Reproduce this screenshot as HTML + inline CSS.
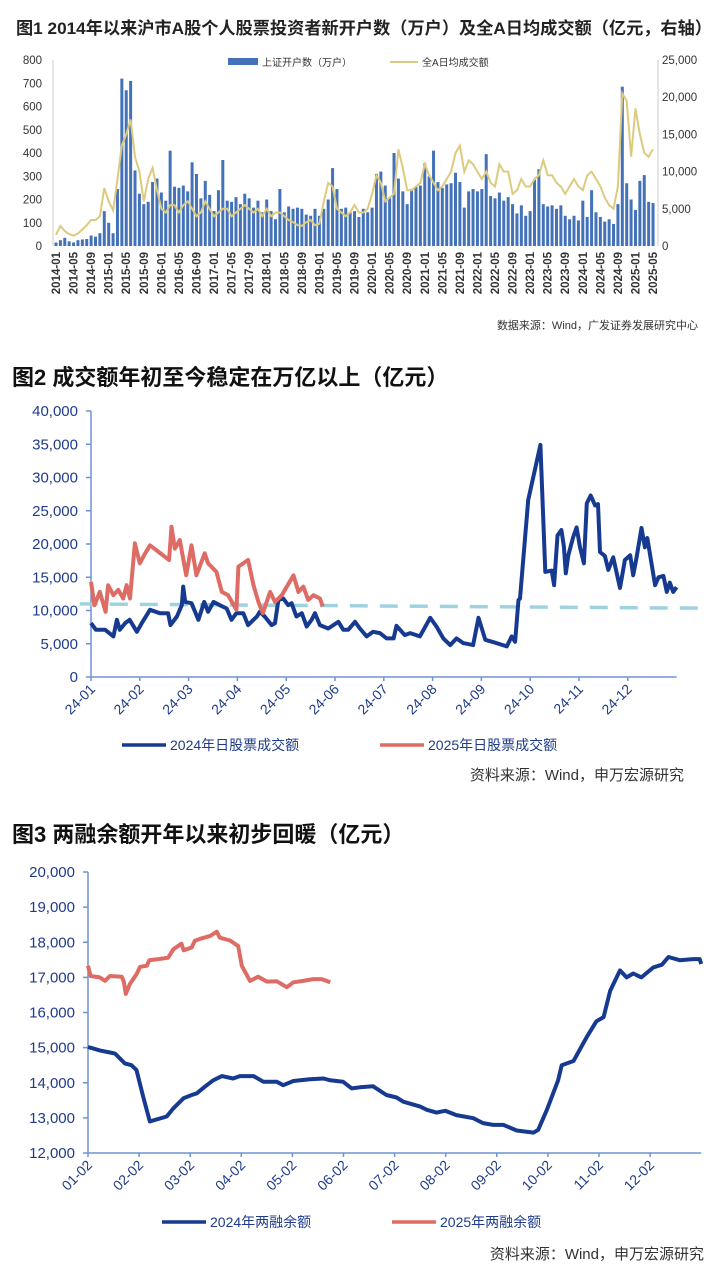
<!DOCTYPE html>
<html><head><meta charset="utf-8"><style>
body{margin:0;background:#fff;}
svg{display:block;font-family:"Liberation Sans","Noto Sans CJK SC",sans-serif;}
</style></head><body>
<svg id="s" width="720" height="1282" viewBox="0 0 720 1282">
<text x="16" y="34" font-size="17" font-weight="bold" fill="#222" textLength="696" lengthAdjust="spacingAndGlyphs">图1  2014年以来沪市A股个人股票投资者新开户数（万户）及全A日均成交额（亿元，右轴）</text>
<g id="c1"></g>
<text x="698" y="329" font-size="11" fill="#333" text-anchor="end">数据来源：Wind，广发证券发展研究中心</text>
<text x="12" y="385" font-size="22" font-weight="bold" fill="#111">图2  成交额年初至今稳定在万亿以上（亿元）</text>
<g id="c2"></g>
<text x="12" y="842" font-size="22" font-weight="bold" fill="#111">图3  两融余额开年以来初步回暖（亿元）</text>
<g id="c3"></g>
</svg>
<script>
// ---------- Figure 1 data ----------
const accounts = [15,25,35,20,15,25,28,30,45,40,55,150,
100,55,245,720,670,710,325,225,180,190,275,290,
230,195,410,255,250,260,235,360,310,205,280,220,
150,240,370,195,190,210,180,225,205,165,195,145,
200,150,115,245,145,170,160,165,160,135,130,160,
130,160,200,335,245,160,165,145,150,125,160,145,
165,310,320,260,210,400,290,235,180,245,255,260,
355,300,410,275,250,265,270,315,275,165,235,245,
235,245,395,215,205,230,195,210,180,140,175,130,
150,285,330,180,170,175,160,175,130,115,130,110,
195,125,240,145,125,105,115,95,180,685,270,200,
155,280,305,190,185];
const turnover = [1500,2700,2000,1600,1400,1700,2200,2800,3500,3500,4000,7800,
6000,4800,9000,13500,15000,17000,12000,10000,6000,9000,10500,7500,
5000,4500,5500,5500,4500,5500,6000,5000,4000,4500,6000,5000,
4000,4500,5000,5000,4000,4500,5000,5500,5000,4500,5000,4000,
5000,4000,4500,4500,4000,3500,3200,2800,2700,3200,3500,2800,
3000,6000,8500,8000,5000,4500,4000,4500,5500,4500,4500,5000,
7000,9500,8500,6000,6500,7000,13000,10500,7500,7500,8000,8500,
11000,9500,8500,7500,8000,9000,10000,12500,13500,10000,11500,11000,
10000,9000,10000,8500,8000,11000,10000,10000,7000,7500,9000,8000,
8000,9000,9500,11500,9500,9500,8500,8000,7000,8000,9000,8000,
7500,9500,10000,9000,8000,6500,5500,5000,8000,20500,19500,12000,
18500,15000,12500,12000,13000];
const leftTicks1 = [0,100,200,300,400,500,600,700,800];
const rightTicks1 = [0,5000,10000,15000,20000,25000];

// ---------- Figure 2 data ----------
const m2024 = [0,.1,.29,.46,.53,.59,.7,.79,.94,1.04,1.21,1.41,1.58,1.63,1.76,1.86,1.89,1.93,2.06,2.2,2.32,2.4,2.51,2.64,2.78,2.88,2.98,3.12,3.22,3.4,3.46,3.56,3.7,3.77,3.84,3.94,4.04,4.11,4.21,4.32,4.42,4.52,4.59,4.69,4.86,5.07,5.17,5.27,5.41,5.51,5.65,5.78,5.92,6.06,6.2,6.26,6.43,6.54,6.74,6.95,7.08,7.22,7.36,7.49,7.63,7.83,7.94,8.08,8.31,8.52,8.62,8.69,8.76,8.79,8.96,9.21,9.31,9.44,9.49,9.56,9.64,9.69,9.73,9.78,9.88,9.95,10.02,10.1,10.16,10.24,10.33,10.39,10.43,10.53,10.6,10.7,10.84,10.94,11.05,11.11,11.18,11.28,11.35,11.4,11.56,11.63,11.73,11.8,11.86,11.93,12];
const v2024 = [8100,7100,7100,6100,8600,7100,8100,8600,6800,8100,10100,9600,9600,7800,9100,10800,13600,11300,11100,8600,11300,9800,11300,10800,10300,8600,9600,9600,7800,9100,9800,9100,7800,8100,11600,11800,10800,11100,9100,9600,7600,8600,9600,7800,7300,8300,7100,7100,8300,7300,6100,6800,6600,5800,5800,7700,6300,6600,6100,8900,7600,5800,4800,5800,5100,4800,8900,5600,5100,4600,6100,5300,11600,11800,26600,34900,15800,16000,13800,21300,22100,19600,15600,18300,21000,22500,19500,17100,26100,27300,25800,26000,18800,18200,16100,18000,13400,17600,18300,15300,18000,22400,19500,20900,13800,15000,15200,12800,14200,12800,13500];
const m2025 = [0,.07,.18,.3,.35,.46,.56,.66,.73,.8,.9,1.0,1.11,1.21,1.6,1.65,1.72,1.82,1.95,2.06,2.16,2.33,2.4,2.57,2.68,2.81,2.98,3.02,3.22,3.33,3.43,3.52,3.67,3.77,3.91,4.15,4.25,4.35,4.45,4.56,4.69,4.75];
const v2025 = [14300,10800,12800,9800,13800,12300,13100,11800,13800,11800,20100,17100,18600,19800,17600,22600,19300,20600,15300,19800,15300,18600,17100,15800,12800,12300,10100,16600,17600,13800,11300,9600,12800,11300,12300,15300,12800,13600,11600,12300,11800,10600];
const trendM = [-0.23,12.5];
const trendV = [11000,10350];
const yTicks2 = [0,5000,10000,15000,20000,25000,30000,35000,40000];
const xLabels2 = ['24-01','24-02','24-03','24-04','24-05','24-06','24-07','24-08','24-09','24-10','24-11','24-12'];

// ---------- Figure 3 data ----------
const mm2024 = [0,.04,.23,.43,.53,.72,.85,.95,1.08,1.21,1.54,1.67,1.87,2.03,2.13,2.29,2.45,2.62,2.84,2.97,3.24,3.43,3.69,3.82,4.02,4.34,4.61,4.74,4.99,5.16,5.32,5.58,5.84,6.04,6.17,6.5,6.63,6.82,6.99,7.21,7.54,7.73,7.93,8.13,8.39,8.72,8.81,8.98,9.2,9.27,9.5,9.76,9.95,10.09,10.22,10.41,10.54,10.67,10.83,11.06,11.23,11.36,11.58,11.84,11.97,12];
const mv2024 = [15020,15000,14920,14860,14830,14550,14500,14360,13600,12900,13040,13270,13560,13650,13700,13890,14070,14190,14120,14190,14190,14030,14030,13930,14050,14100,14120,14070,14030,13840,13870,13900,13650,13580,13460,13320,13230,13150,13200,13080,12990,12850,12800,12800,12640,12580,12660,13230,14070,14500,14620,15300,15750,15870,16620,17200,17000,17110,17000,17280,17360,17580,17490,17520,17520,17380];
const mm2025 = [0,.05,.23,.33,.43,.66,.7,.74,.82,.95,1.02,1.15,1.2,1.38,1.57,1.67,1.83,1.87,2.03,2.09,2.22,2.39,2.52,2.58,2.78,2.94,3.01,3.17,3.33,3.5,3.69,3.89,4.02,4.21,4.41,4.57,4.67,4.74];
const mv2025 = [17330,17040,17000,16900,17040,17020,16880,16530,16810,17090,17300,17330,17490,17520,17560,17800,17960,17770,17850,18040,18110,18180,18300,18130,18050,17890,17330,16900,17020,16880,16890,16720,16860,16900,16950,16950,16900,16860];
const yTicks3 = [12000,13000,14000,15000,16000,17000,18000,19000,20000];
const xLabels3 = ['01-02','02-02','03-02','04-02','05-02','06-02','07-02','08-02','09-02','10-02','11-02','12-02'];

const NS='http://www.w3.org/2000/svg';
function mk(parent,tag,attrs,txt){const e=document.createElementNS(NS,tag);for(const k in attrs)e.setAttribute(k,attrs[k]);if(txt!==undefined)e.textContent=txt;parent.appendChild(e);return e;}
function path(xs,ys,fx,fy){return xs.map((x,i)=>(i?'L':'M')+fx(x).toFixed(1)+','+fy(ys[i]).toFixed(1)).join('');}

// ---------- Figure 1 ----------
(function(){
const g=document.getElementById('c1');
const x0=56,dx=4.39,yb=246,yt=60;
const xs=i=>x0+i*dx;
const yl=v=>yb-(v/800)*(yb-yt);
const yr=v=>yb-(v/25000)*(yb-yt);
let e;
e=mk(g,'line',{x1:53,y1:yt,x2:53,y2:yb,stroke:'#ccc'});

e=mk(g,'line',{x1:658,y1:yt,x2:658,y2:yb,stroke:'#ccc'});

leftTicks1.forEach(v=>{e=mk(g,'text',{x:42,y:yl(v)+4,'font-size':11.5,fill:'#333','text-anchor':'end'},String(v));
});
rightTicks1.forEach(v=>{e=mk(g,'text',{x:662,y:yr(v)+4,'font-size':11.5,fill:'#333'},v.toLocaleString('en-US'));
});
accounts.forEach((v,i)=>{e=mk(g,'rect',{x:xs(i)-1.5,y:yl(v),width:3,height:yb-yl(v),fill:'#4472b8'});
});
e=mk(g,'path',{d:path(turnover.map((_,i)=>i),turnover,xs,yr),fill:'none',stroke:'#dccb7e','stroke-width':2});

for(let i=0;i<accounts.length;i+=4){const y=2014+Math.floor(i/12),m=i%12+1;
e=mk(g,'text',{x:0,y:0,'font-size':11.5,'font-weight':'bold',fill:'#333','text-anchor':'end',transform:`translate(${(xs(i)+4).toFixed(1)},252) rotate(-90)`},y+'-'+String(m).padStart(2,'0'));
}
e=mk(g,'rect',{x:228,y:58,width:30,height:7,fill:'#4472b8'});

e=mk(g,'text',{x:262,y:66,'font-size':10,fill:'#333'},'上证开户数（万户）');

e=mk(g,'line',{x1:390,y1:62,x2:418,y2:62,stroke:'#dccb7e','stroke-width':2});

e=mk(g,'text',{x:422,y:66,'font-size':10,fill:'#333'},'全A日均成交额');

})();

// ---------- generic line chart for fig 2 & 3 ----------
function lineChart(g,o){
const fx=m=>o.x0+m*o.mw;
const fy=v=>o.yb-(v-o.vmin)/(o.vmax-o.vmin)*(o.yb-o.yt);
let e;
e=mk(g,'line',{x1:o.x0,y1:o.yt,x2:o.x0,y2:o.yb,stroke:'#6f93d3','stroke-width':1.5});

e=mk(g,'line',{x1:o.x0,y1:o.yb,x2:fx(12),y2:o.yb,stroke:'#6f93d3','stroke-width':1.5});

o.yTicks.forEach(v=>{
e=mk(g,'line',{x1:o.x0-5,y1:fy(v),x2:o.x0,y2:fy(v),stroke:'#6f93d3','stroke-width':1.5});

e=mk(g,'text',{x:o.x0-13,y:fy(v)+5,'font-size':15,fill:'#1f3b8a','text-anchor':'end'},v.toLocaleString('en-US'));
});
o.xLabels.forEach((l,i)=>{
e=mk(g,'line',{x1:fx(i),y1:o.yb,x2:fx(i),y2:o.yb+4,stroke:'#6f93d3','stroke-width':1.5});

e=mk(g,'text',{x:0,y:0,'font-size':14,fill:'#1f3b8a','text-anchor':'end',transform:`translate(${fx(i)+5},${o.yb+13}) rotate(-45)`},l);
});
if(o.trendM){e=mk(g,'path',{d:path(o.trendM,o.trendV,fx,fy),stroke:'#9fd2df','stroke-width':3.5,'stroke-dasharray':'18,12',fill:'none'});
}
e=mk(g,'path',{d:path(o.ma,o.va,fx,fy),fill:'none',stroke:'#173a91','stroke-width':4,'stroke-linejoin':'round'});

e=mk(g,'path',{d:path(o.mb,o.vb,fx,fy),fill:'none',stroke:'#de6b64','stroke-width':4,'stroke-linejoin':'round'});

e=mk(g,'line',{x1:o.lg[0],y1:o.lgy,x2:o.lg[0]+44,y2:o.lgy,stroke:'#173a91','stroke-width':3.5});

e=mk(g,'text',{x:o.lg[0]+48,y:o.lgy+5,'font-size':14,fill:'#1f3b8a'},o.names[0]);

e=mk(g,'line',{x1:o.lg[1],y1:o.lgy,x2:o.lg[1]+44,y2:o.lgy,stroke:'#de6b64','stroke-width':3.5});

e=mk(g,'text',{x:o.lg[1]+48,y:o.lgy+5,'font-size':14,fill:'#1f3b8a'},o.names[1]);

e=mk(g,'text',{x:o.srcX,y:o.srcY,'font-size':15,fill:'#333','text-anchor':'end'},'资料来源：Wind，申万宏源研究');

}
lineChart(document.getElementById('c2'),{x0:91,mw:48.8,yb:677,yt:411,vmin:0,vmax:40000,yTicks:yTicks2,xLabels:xLabels2,
ma:m2024,va:v2024,mb:m2025,vb:v2025,trendM:trendM,trendV:trendV,lg:[122,380],lgy:745,names:['2024年日股票成交额','2025年日股票成交额'],srcX:684,srcY:780});
lineChart(document.getElementById('c3'),{x0:88,mw:51.1,yb:1153,yt:872,vmin:12000,vmax:20000,yTicks:yTicks3,xLabels:xLabels3,
ma:mm2024,va:mv2024,mb:mm2025,vb:mv2025,lg:[162,392],lgy:1222,names:['2024年两融余额','2025年两融余额'],srcX:704,srcY:1259});
</script>
</body></html>
